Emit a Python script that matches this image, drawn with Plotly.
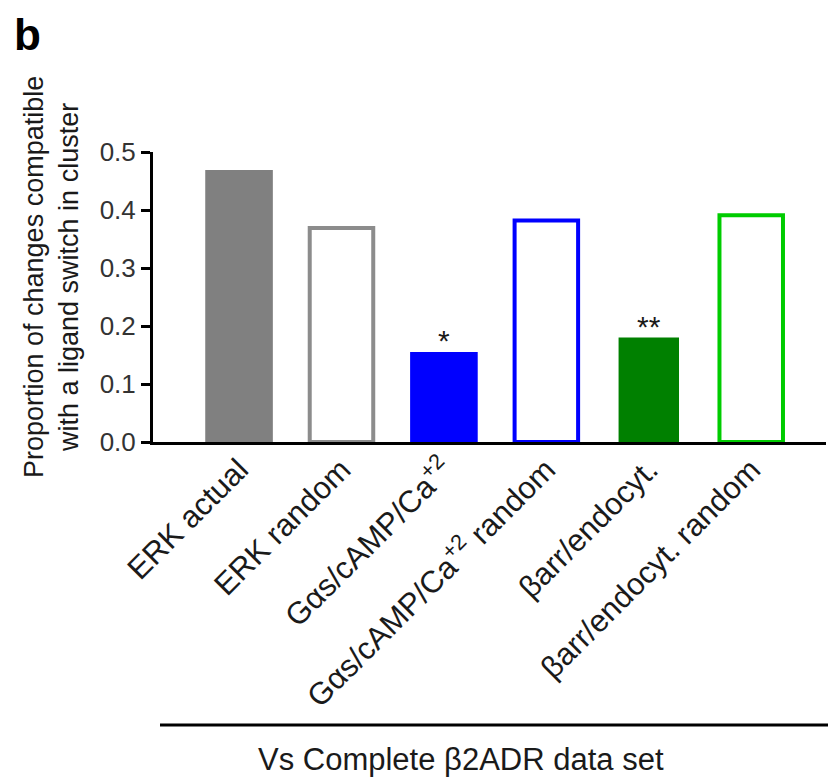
import plotly.graph_objects as go

# Data
categories = [
    "ERK actual",
    "ERK random",
    "G\u03b1s/cAMP/Ca<sup>+2</sup>",
    "G\u03b1s/cAMP/Ca<sup>+2</sup> random",
    "\u03b2arr/endocyt.",
    "\u03b2arr/endocyt. random",
]
values = [0.469, 0.369, 0.155, 0.382, 0.180, 0.391]
significance = ["", "", "*", "", "**", ""]
y_ticks = [0.0, 0.1, 0.2, 0.3, 0.4, 0.5]
y_tick_labels = ["0.0", "0.1", "0.2", "0.3", "0.4", "0.5"]

# Styling
fill_colors = ["#808080", "#ffffff", "#0000ff", "#ffffff", "#008000", "#ffffff"]
edge_colors = ["#808080", "#8c8c8c", "#0000ff", "#0000ff", "#008000", "#00cc00"]
edge_widths = [0, 4, 0, 4, 0, 4]
bar_widths = [0.66, 0.62, 0.66, 0.62, 0.59, 0.62]

FONT = "Liberation Sans, Arial, sans-serif"
TXT = "#1a1a1a"

x_pos = list(range(len(categories)))

fig = go.Figure()
fig.add_trace(go.Bar(
    x=x_pos,
    y=values,
    width=bar_widths,
    marker=dict(color=fill_colors, line=dict(color=edge_colors, width=edge_widths)),
    showlegend=False,
    hoverinfo="skip",
))

# significance marks above bars
for xi, v, s in zip(x_pos, values, significance):
    if s:
        fig.add_annotation(x=xi, y=v, text=s, showarrow=False, xanchor="center",
                           yanchor="bottom", yshift=-7,
                           font=dict(family=FONT, size=30, color=TXT))

fig.update_layout(
    width=828, height=780,
    margin=dict(l=153, r=2, t=152, b=338),
    paper_bgcolor="white", plot_bgcolor="white",
    xaxis=dict(
        range=[-0.84, 5.73],
        tickmode="array", tickvals=x_pos, ticktext=categories,
        tickangle=-45,
        ticklabelstandoff=-6,
        showline=True, linecolor="black", linewidth=3,
        ticks="", showgrid=False, zeroline=False,
        tickfont=dict(family=FONT, size=31, color=TXT),
        fixedrange=True,
    ),
    yaxis=dict(
        range=[0, 0.5],
        tickmode="array", tickvals=y_ticks, ticktext=y_tick_labels,
        showline=True, linecolor="black", linewidth=3,
        ticks="outside", ticklen=9, tickwidth=3, tickcolor="black",
        showgrid=False, zeroline=False,
        tickfont=dict(family=FONT, size=26, color="#333333"),
        fixedrange=True,
    ),
)

# y-axis title (two lines)
fig.add_annotation(
    xref="paper", yref="paper", x=-0.150, y=0.569,
    text="Proportion of changes compatible<br>with a ligand switch in cluster",
    textangle=-90, showarrow=False, xanchor="center", yanchor="middle",
    font=dict(family=FONT, size=27, color=TXT),
)

# panel letter
fig.add_annotation(
    xref="paper", yref="paper", x=(12 - 153) / 673, y=(442 - 8) / 290,
    text="<b>b</b>", showarrow=False, xanchor="left", yanchor="top",
    font=dict(family=FONT, size=44, color="black"),
)

# group bracket line and caption below the categories
fig.add_shape(type="line", xref="paper", yref="paper",
              x0=(160 - 153) / 673, x1=1.01, y0=(442 - 725) / 290, y1=(442 - 725) / 290,
              line=dict(color="black", width=3))
fig.add_annotation(
    xref="paper", yref="paper", x=(461 - 153) / 673, y=(442 - 760) / 290,
    text="Vs Complete \u03b22ADR data set", showarrow=False,
    xanchor="center", yanchor="middle",
    font=dict(family=FONT, size=31, color=TXT),
)

fig.write_html("out.html")
